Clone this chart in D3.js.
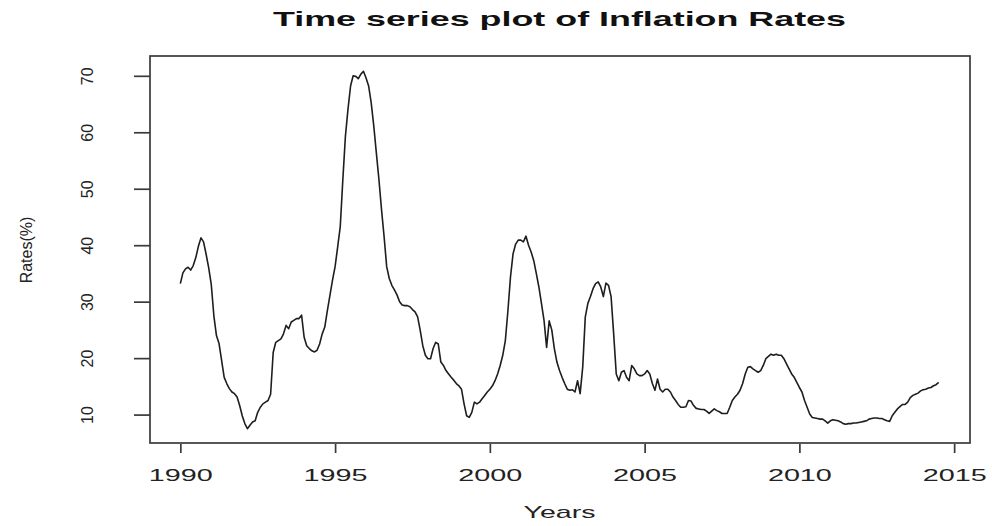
<!DOCTYPE html>
<html>
<head>
<meta charset="utf-8">
<script src="https://cdn.jsdelivr.net/npm/d3@7"></script>
<style>
  html, body { margin: 0; padding: 0; background: #fff; }
  svg { display: block; font-family: "Liberation Sans", Arial, sans-serif; }
</style>
</head>
<body>
<svg id="chart" width="992" height="526"></svg>
<script>
// Monthly inflation rate (%), January 1990 onwards
const startYear = 1990;
const rates = [
  // 1990
  33.2, 35.1, 35.8, 36.1, 35.6, 36.4, 37.8, 39.8, 41.3, 40.6, 38.4, 36.0,
  // 1991
  33.0, 27.5, 24.0, 22.6, 19.6, 16.6, 15.5, 14.6, 14.0, 13.7, 13.1, 11.6,
  // 1992
  9.8, 8.4, 7.5, 8.1, 8.7, 8.9, 10.4, 11.3, 11.9, 12.2, 12.5, 13.6,
  // 1993
  21.0, 22.8, 23.1, 23.4, 24.3, 25.8, 25.2, 26.4, 26.7, 27.0, 27.0, 27.6,
  // 1994
  23.7, 22.2, 21.7, 21.3, 21.1, 21.4, 22.5, 24.3, 25.5, 28.4, 31.1, 33.8,
  // 1995
  36.2, 39.7, 43.3, 51.6, 59.3, 64.1, 68.2, 70.0, 69.9, 69.5, 70.3, 70.8,
  // 1996
  69.6, 68.2, 65.2, 61.1, 56.3, 51.6, 46.3, 41.5, 36.2, 34.1, 32.9, 32.1,
  // 1997
  31.2, 30.0, 29.4, 29.3, 29.3, 29.1, 28.6, 28.2, 27.3, 24.9, 22.2, 20.5,
  // 1998
  19.9, 19.9, 21.7, 22.8, 22.5, 19.3, 18.7, 17.8, 17.2, 16.6, 16.1, 15.5,
  // 1999
  15.1, 14.5, 11.9, 9.8, 9.5, 10.4, 12.2, 11.9, 12.2, 12.8, 13.4, 14.0,
  // 2000
  14.5, 15.1, 16.0, 17.2, 18.7, 20.5, 23.1, 28.4, 34.4, 38.5, 40.2, 40.9,
  // 2001
  40.9, 40.6, 41.6, 40.0, 38.8, 37.3, 35.0, 32.6, 29.7, 26.7, 21.9, 26.6,
  // 2002
  25.0, 21.7, 19.3, 17.8, 16.6, 15.5, 14.5, 14.3, 14.4, 14.0, 16.0, 13.7,
  // 2003
  18.4, 27.3, 29.7, 30.9, 32.3, 33.2, 33.5, 32.6, 30.9, 33.3, 32.9, 30.9,
  // 2004
  24.3, 17.2, 16.0, 17.5, 17.8, 16.6, 16.0, 18.7, 18.1, 17.2, 16.9, 16.9,
  // 2005
  17.2, 17.8, 17.2, 15.5, 14.3, 16.3, 14.5, 14.0, 14.5, 14.5, 14.0, 13.1,
  // 2006
  12.5, 11.8, 11.3, 11.3, 11.4, 12.5, 12.4, 11.6, 11.1, 11.0, 10.9, 10.9,
  // 2007
  10.6, 10.2, 10.6, 11.0, 10.7, 10.5, 10.2, 10.2, 10.2, 11.3, 12.5, 13.1,
  // 2008
  13.6, 14.3, 15.5, 17.2, 18.4, 18.5, 18.1, 17.8, 17.5, 17.8, 18.7, 19.9,
  // 2009
  20.3, 20.7, 20.5, 20.7, 20.5, 20.5, 19.9, 19.0, 18.1, 17.2, 16.6, 15.7,
  // 2010
  14.8, 14.0, 12.5, 11.3, 10.1, 9.5, 9.4, 9.3, 9.2, 9.2, 8.9, 8.5,
  // 2011
  8.9, 9.1, 9.0, 8.9, 8.7, 8.4, 8.3, 8.4, 8.4, 8.5, 8.5, 8.6,
  // 2012
  8.7, 8.8, 8.9, 9.2, 9.3, 9.4, 9.4, 9.3, 9.3, 9.1, 8.9, 8.8,
  // 2013
  9.8, 10.4, 11.0, 11.4, 11.8, 11.8, 12.2, 13.0, 13.4, 13.6, 13.8, 14.2,
  // 2014
  14.4, 14.5, 14.7, 14.8, 15.1, 15.3, 15.7
];
const xTickValues = [1990, 1995, 2000, 2005, 2010, 2015];
const yTickValues = [10, 20, 30, 40, 50, 60, 70];
const titleText = "Time series plot of Inflation Rates";
const xTitle = "Years";
const yTitle = "Rates(%)";

const series = rates.map((v, i) => ({ t: startYear + i / 12, v }));

const svg = d3.select("#chart");
const ink = "#222";

// Plot region; axis limits are padded by 4% like a base-graphics plot
const plot = { left: 150, right: 969, top: 57, bottom: 443 };
const tExt = d3.extent(series, d => d.t);
const vExt = d3.extent(series, d => d.v);
const tPad = (tExt[1] - tExt[0]) * 0.04;
const vPad = (vExt[1] - vExt[0]) * 0.04;

const x = d3.scaleLinear()
  .domain([tExt[0] - tPad, tExt[1] + tPad])
  .range([plot.left, plot.right]);
const y = d3.scaleLinear()
  .domain([vExt[0] - vPad, vExt[1] + vPad])
  .range([plot.bottom, plot.top]);

// Series line
svg.append("path")
  .datum(series)
  .attr("fill", "none")
  .attr("stroke", "#1e1e1e")
  .attr("stroke-width", 1.6)
  .attr("stroke-linejoin", "round")
  .attr("d", d3.line().x(d => x(d.t)).y(d => y(d.v)));

// Frame around the plot region
svg.append("rect")
  .attr("x", plot.left)
  .attr("y", plot.top - 1)
  .attr("width", plot.right - plot.left + 1)
  .attr("height", plot.bottom - plot.top + 1)
  .attr("fill", "none")
  .attr("stroke", "#3a3a3a")
  .attr("stroke-width", 1.7);

// Bottom axis
const gx = svg.append("g")
  .attr("transform", `translate(0,${plot.bottom + 1})`)
  .call(d3.axisBottom(x).tickValues(xTickValues).tickFormat(d3.format("d")).tickSize(9));
gx.select(".domain").remove();
gx.selectAll(".tick line").attr("stroke", "#3a3a3a").attr("stroke-width", 1.7);
gx.selectAll(".tick text")
  .attr("y", 37)
  .attr("dy", 0)
  .attr("fill", ink)
  .attr("font-size", 17)
  .attr("textLength", 64)
  .attr("lengthAdjust", "spacingAndGlyphs");

// Left axis with labels running upward
const gy = svg.append("g")
  .attr("transform", `translate(${plot.left},0)`)
  .call(d3.axisLeft(y).tickValues(yTickValues).tickSize(16));
gy.select(".domain").remove();
gy.selectAll(".tick line").attr("stroke", "#3a3a3a").attr("stroke-width", 1.7);
gy.selectAll(".tick text")
  .attr("x", null)
  .attr("dy", 0)
  .attr("text-anchor", "middle")
  .attr("transform", "translate(-57,0) rotate(-90)")
  .attr("fill", ink)
  .attr("font-size", 16);

// Titles
const midX = (plot.left + plot.right) / 2;
svg.append("text")
  .attr("x", midX)
  .attr("y", 26)
  .attr("text-anchor", "middle")
  .attr("font-weight", "bold")
  .attr("font-size", 21)
  .attr("fill", "#111")
  .attr("textLength", 573)
  .attr("lengthAdjust", "spacingAndGlyphs")
  .text(titleText);

svg.append("text")
  .attr("x", midX)
  .attr("y", 518)
  .attr("text-anchor", "middle")
  .attr("font-size", 17)
  .attr("fill", ink)
  .attr("textLength", 72)
  .attr("lengthAdjust", "spacingAndGlyphs")
  .text(xTitle);

svg.append("text")
  .attr("transform", `translate(32,${(plot.top + plot.bottom) / 2}) rotate(-90)`)
  .attr("text-anchor", "middle")
  .attr("font-size", 16)
  .attr("fill", ink)
  .text(yTitle);
</script>
</body>
</html>
